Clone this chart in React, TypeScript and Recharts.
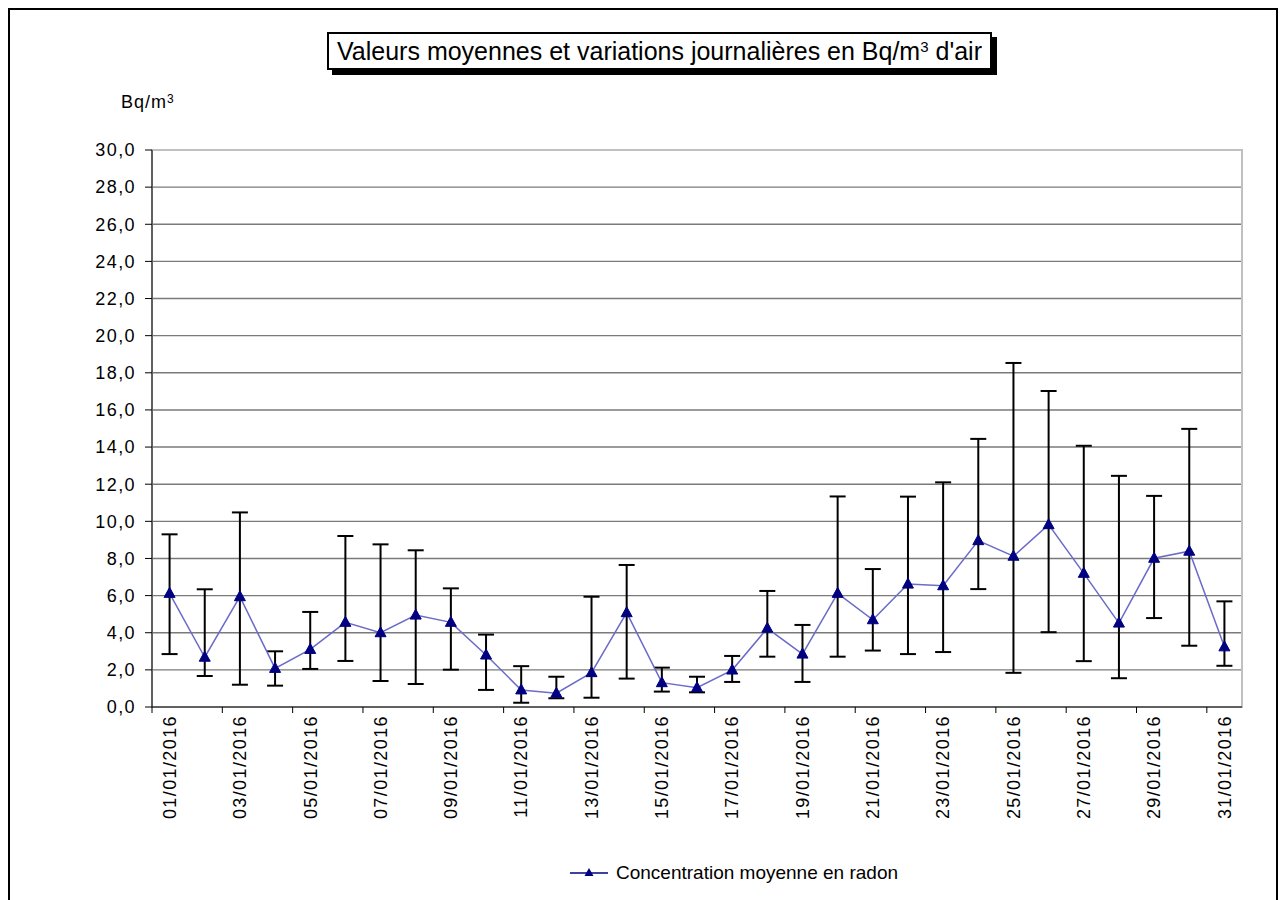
import React from 'react';
import {
  ComposedChart, Line, ErrorBar, XAxis, YAxis, CartesianGrid, ReferenceArea,
} from 'recharts';

const days = [
  '01/01/2016', '02/01/2016', '03/01/2016', '04/01/2016', '05/01/2016', '06/01/2016',
  '07/01/2016', '08/01/2016', '09/01/2016', '10/01/2016', '11/01/2016', '12/01/2016',
  '13/01/2016', '14/01/2016', '15/01/2016', '16/01/2016', '17/01/2016', '18/01/2016',
  '19/01/2016', '20/01/2016', '21/01/2016', '22/01/2016', '23/01/2016', '24/01/2016',
  '25/01/2016', '26/01/2016', '27/01/2016', '28/01/2016', '29/01/2016', '30/01/2016',
  '31/01/2016',
];

const means = [
  6.12, 2.68, 5.94, 2.08, 3.1, 4.56, 4.0, 4.95, 4.56, 2.8, 0.92, 0.74, 1.85, 5.08, 1.31, 1.04,
  1.99, 4.24, 2.85, 6.12, 4.7, 6.62, 6.53, 8.96, 8.12, 9.82, 7.2, 4.52, 8.01, 8.39, 3.24,
];

const maxs = [
  9.3, 6.34, 10.48, 3.0, 5.12, 9.21, 8.76, 8.44, 6.39, 3.9, 2.2, 1.63, 5.94, 7.65, 2.12, 1.63,
  2.75, 6.25, 4.42, 11.34, 7.43, 11.33, 12.1, 14.44, 18.53, 17.02, 14.07, 12.45, 11.37, 14.98, 5.69,
];

const mins = [
  2.85, 1.67, 1.2, 1.15, 2.05, 2.48, 1.4, 1.24, 2.01, 0.92, 0.23, 0.47, 0.5, 1.53, 0.83, 0.79,
  1.35, 2.71, 1.35, 2.71, 3.04, 2.85, 2.96, 6.35, 1.84, 4.03, 2.47, 1.55, 4.79, 3.3, 2.22,
];

const yTicks = [0, 2, 4, 6, 8, 10, 12, 14, 16, 18, 20, 22, 24, 26, 28, 30];

const data = days.map((d, i) => ({
  date: d,
  mean: means[i],
  err: [means[i] - mins[i], maxs[i] - means[i]],
}));

// layout
const W = 1287;
const H = 900;
const TOP = 150;
const LEFT = 152;
const RIGHT = 45;
const X_AXIS_H = 120;
const BOTTOM = 73;
const PLOT_BOTTOM = H - BOTTOM - X_AXIS_H;
const HALF_BAND = (W - LEFT - RIGHT) / days.length / 2;

const FONT = '"Liberation Sans", Arial, sans-serif';

const Triangle = (props: any) => {
  const { cx, cy } = props;
  if (cx == null || cy == null) return null;
  return (
    <polygon
      points={`${cx},${cy - 6} ${cx - 5.5},${cy + 4} ${cx + 5.5},${cy + 4}`}
      fill="#000080"
      stroke="#000080"
    />
  );
};

const XTick = (props: any) => {
  const { x, payload } = props;
  const bx = x - HALF_BAND;
  const ty = PLOT_BOTTOM + 8;
  return (
    <g>
      <line x1={bx} x2={bx} y1={PLOT_BOTTOM} y2={PLOT_BOTTOM + 6} stroke="#000" />
      <text
        x={x}
        y={ty}
        transform={`rotate(-90, ${x}, ${ty})`}
        textAnchor="end"
        dy="0.35em"
        fontSize={18}
        fontFamily={FONT}
        fill="#000"
        style={{ letterSpacing: '1.4px' }}
      >
        {payload.value}
      </text>
    </g>
  );
};

const YTick = (props: any) => {
  const { y, payload } = props;
  return (
    <text
      x={LEFT - 16}
      y={y}
      dy="0.35em"
      textAnchor="end"
      fontSize={18}
      fontFamily={FONT}
      fill="#000"
      style={{ letterSpacing: '1.4px' }}
    >
      {payload.value.toFixed(1).replace('.', ',')}
    </text>
  );
};

export default function App() {
  return (
    <div style={{ position: 'absolute', left: 0, top: 0, width: W, height: H, background: '#fff', overflow: 'hidden' }}>
      <div
        style={{
          position: 'absolute', left: 8, top: 8, width: 1270, height: 900,
          border: '2px solid #000', boxSizing: 'border-box',
        }}
      />
      <div
        style={{
          position: 'absolute', left: 327, top: 32, width: 665, height: 38,
          border: '2px solid #000', boxSizing: 'border-box', background: '#fff',
          boxShadow: '5px 5px 0 #000', fontFamily: FONT, fontSize: 25,
          lineHeight: '34px', textAlign: 'center', whiteSpace: 'nowrap',
        }}
      >
        Valeurs moyennes et variations journalières en Bq/m<sup style={{ fontSize: 15, verticalAlign: 'top', lineHeight: '26px' }}>3</sup> d'air
      </div>
      <div
        style={{
          position: 'absolute', left: 121, top: 92, fontFamily: FONT, fontSize: 18,
          letterSpacing: 1, whiteSpace: 'nowrap',
        }}
      >
        Bq/m<sup style={{ fontSize: 12, verticalAlign: 'top', lineHeight: '14px' }}>3</sup>
      </div>
      <ComposedChart
        width={W}
        height={H}
        data={data}
        margin={{ top: TOP, right: RIGHT, bottom: BOTTOM, left: 0 }}
      >
        <CartesianGrid vertical={false} stroke="#7a7a7a" strokeWidth={1.4} />
        <ReferenceArea y1={0} y2={30} fill="none" stroke="#c0c0c0" strokeWidth={2} ifOverflow="visible" />
        <XAxis
          dataKey="date"
          scale="band"
          interval={1}
          height={X_AXIS_H}
          axisLine={{ stroke: '#000' }}
          tickLine={false}
          tick={<XTick />}
        />
        <YAxis
          domain={[0, 30]}
          ticks={yTicks}
          width={LEFT}
          interval={0}
          axisLine={{ stroke: '#000' }}
          tickLine={{ stroke: '#000' }}
          tickSize={7}
          tick={<YTick />}
        />
        <Line
          dataKey="mean"
          stroke="#6b6bc8"
          strokeWidth={1.5}
          dot={<Triangle />}
          activeDot={false}
          isAnimationActive={false}
        >
          <ErrorBar dataKey="err" width={8} stroke="#000" strokeWidth={2} direction="y" />
        </Line>
      </ComposedChart>
      <div
        style={{
          position: 'absolute', left: 570, top: 860, height: 26, display: 'flex',
          alignItems: 'center', fontFamily: FONT, fontSize: 19, whiteSpace: 'nowrap',
        }}
      >
        <svg width={40} height={26}>
          <line x1={0} x2={38} y1={13} y2={13} stroke="#000080" strokeWidth={1.5} />
          <polygon points="19,8 14.5,16 23.5,16" fill="#000080" />
        </svg>
        <span style={{ marginLeft: 6 }}>Concentration moyenne en radon</span>
      </div>
    </div>
  );
}
